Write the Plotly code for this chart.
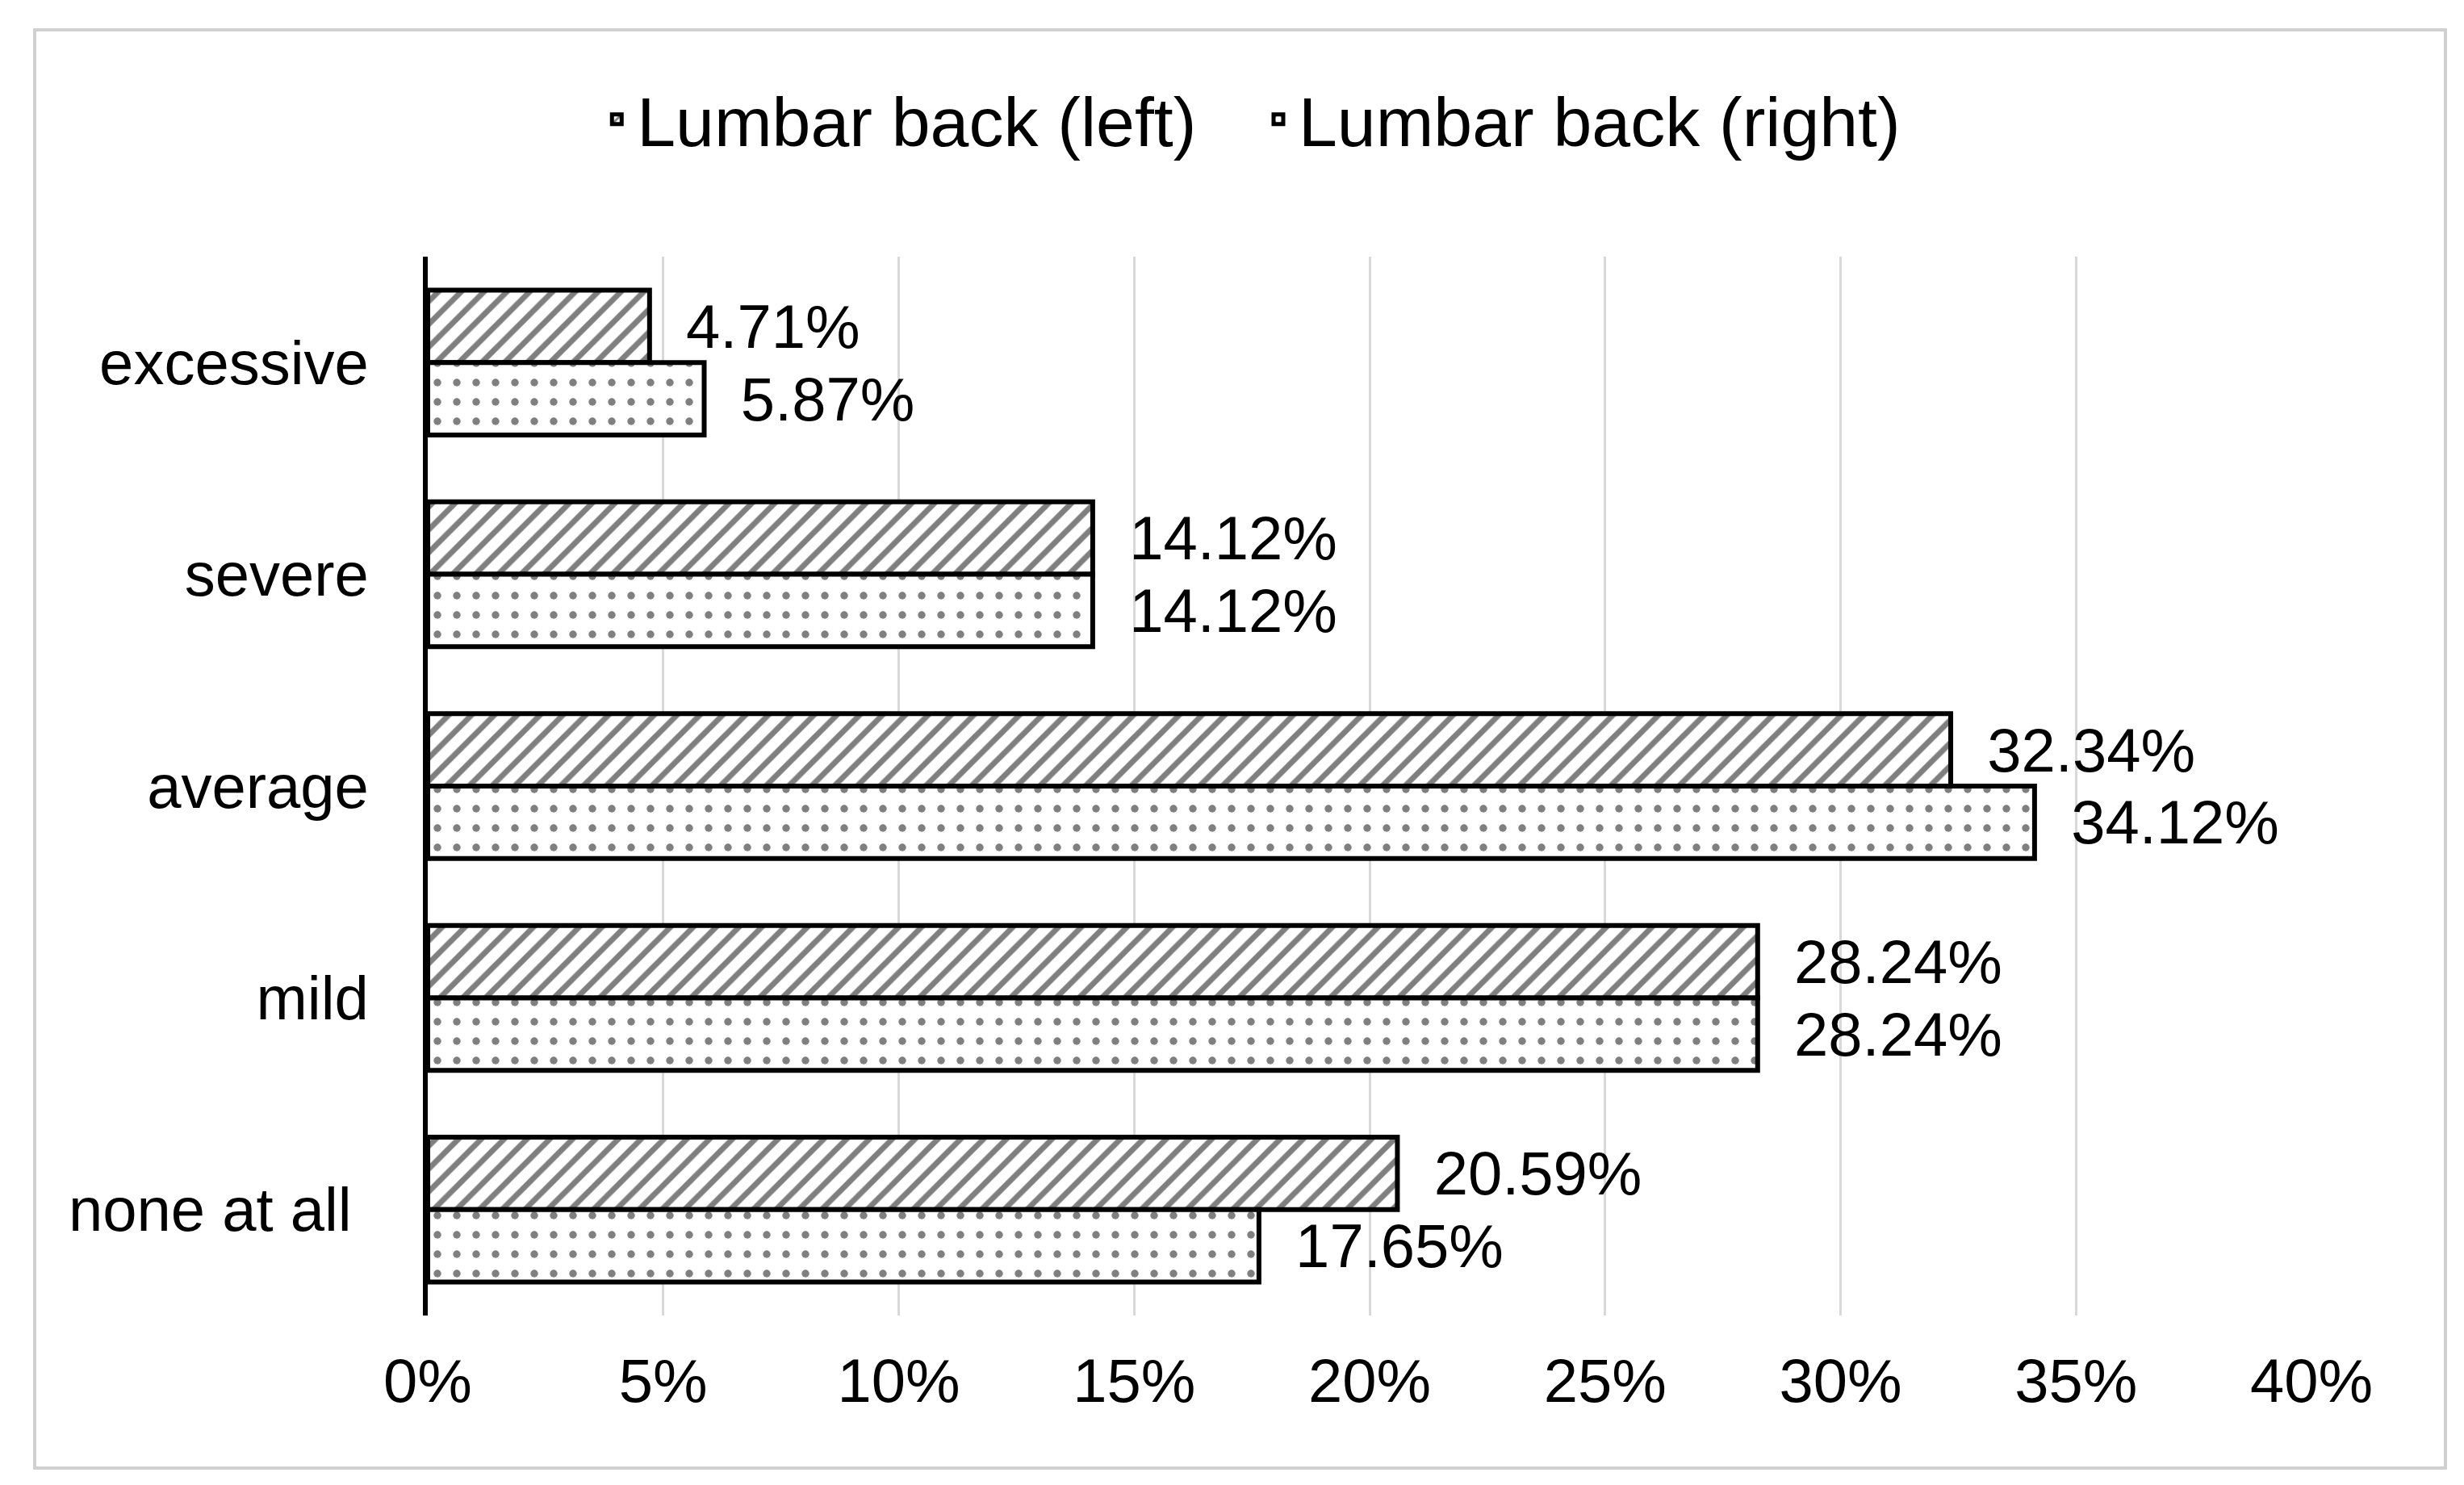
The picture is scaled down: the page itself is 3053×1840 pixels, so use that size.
import plotly.graph_objects as go

categories = ["excessive", "severe", "average", "mild", "none at all"]
category_labels = ["excessive", "severe", "average", "mild", "none at all\u00a0"]
left_values = [4.71, 14.12, 32.34, 28.24, 20.59]
right_values = [5.87, 14.12, 34.12, 28.24, 17.65]
series_names = ["Lumbar back (left)", "Lumbar back (right)"]
x_ticks = [0, 5, 10, 15, 20, 25, 30, 35, 40]
x_tick_labels = [f"{v}%" for v in x_ticks]

FONT = "Liberation Sans, Arial, sans-serif"
W, H = 3053, 1840
ML, MR, MT, MB = 522, 197, 310, 218

fig = go.Figure()
fig.add_trace(go.Bar(
    y=categories, x=left_values, orientation="h", name=series_names[0] + "\u00a0\u00a0\u00a0",
    marker=dict(color="white", line=dict(color="black", width=6),
                pattern=dict(shape="/", fgcolor="black", bgcolor="white", size=20, solidity=0.35)),
    text=[f"\u00a0\u00a0{v:.2f}%" for v in left_values], textposition="outside",
    textfont=dict(family=FONT, size=76, color="black"), cliponaxis=False,
))
fig.add_trace(go.Bar(
    y=categories, x=right_values, orientation="h", name=series_names[1],
    marker=dict(color="white", line=dict(color="black", width=6),
                pattern=dict(shape=".", fgcolor="black", bgcolor="white", size=24, solidity=0.12)),
    text=[f"\u00a0\u00a0{v:.2f}%" for v in right_values], textposition="outside",
    textfont=dict(family=FONT, size=76, color="black"), cliponaxis=False,
))

pw = W - ML - MR
ph = H - MT - MB
fig.update_layout(
    width=W, height=H,
    margin=dict(l=ML, r=MR, t=MT, b=MB),
    paper_bgcolor="white", plot_bgcolor="white",
    barmode="group", bargap=0.316, bargroupgap=0,
    font=dict(family=FONT, size=76, color="black"),
    legend=dict(orientation="h", xref="container", yref="container", x=0.505, y=0.924,
                xanchor="center", yanchor="middle", font=dict(family=FONT, size=86, color="black"),
                itemwidth=40, traceorder="normal"),
    xaxis=dict(range=[0, 40], tickvals=x_ticks, ticktext=x_tick_labels, showgrid=True,
               gridcolor="#d9d9d9", gridwidth=3, zeroline=False, showline=False,
               ticks="", ticklabelstandoff=30, tickfont=dict(family=FONT, size=76, color="black")),
    yaxis=dict(autorange="reversed", showline=True, linecolor="black", linewidth=6,
               tickvals=categories, ticktext=category_labels,
               ticks="", ticklabelstandoff=52, showgrid=False,
               tickfont=dict(family=FONT, size=76, color="black")),
    shapes=[dict(type="rect", xref="paper", yref="paper",
                 x0=(35 - ML) / pw, x1=(3022 - ML) / pw,
                 y0=(H - MB - 1811) / ph, y1=(H - MB - 29) / ph,
                 line=dict(color="#d0d0d0", width=4), fillcolor="rgba(0,0,0,0)", layer="below")],
)
fig.write_html("out.html")
